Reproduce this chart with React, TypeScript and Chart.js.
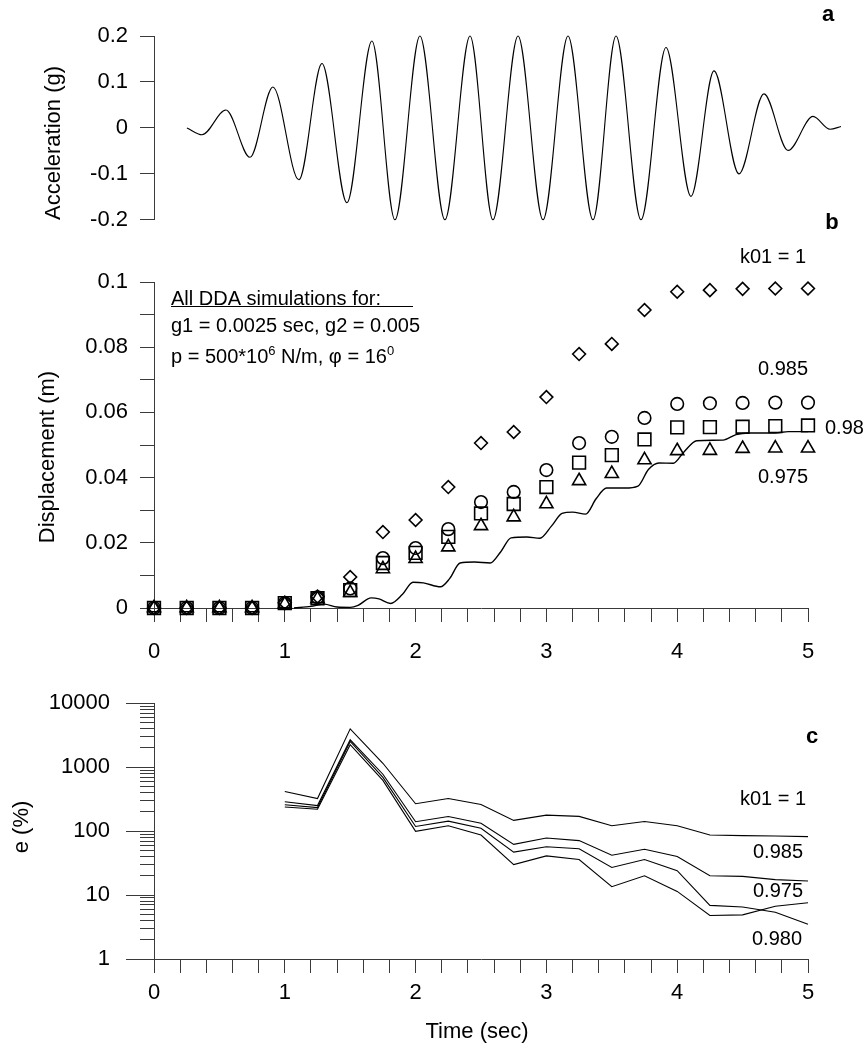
import React, { useEffect, useRef } from "react";
import { Chart, registerables } from "chart.js";

Chart.register(...registerables);

const FONT = "'Liberation Sans', Arial, Helvetica, sans-serif";
const INK = "#000";
const AXIS = "#3a3a3a";
const W = 865;

// ---------- Panel a: input acceleration (peaks and troughs) ----------
const accTime = [0.000, 0.115, 0.298, 0.482, 0.657, 0.856, 1.032, 1.223, 1.414, 1.590, 1.781, 1.972, 2.164, 2.339, 2.531, 2.722, 2.913, 3.104, 3.280, 3.471, 3.662, 3.853, 4.029, 4.220, 4.411, 4.595, 4.786, 4.916, 5.000];
const accValue = [0, -0.015, 0.039, -0.064, 0.089, -0.113, 0.140, -0.163, 0.189, -0.200, 0.200, -0.200, 0.200, -0.200, 0.200, -0.200, 0.200, -0.200, 0.200, -0.200, 0.175, -0.149, 0.124, -0.100, 0.074, -0.049, 0.025, -0.003, 0.003];
const accYTicks = [-0.2, -0.1, 0, 0.1, 0.2];

// ---------- Panel b: displacement ----------
const simTime = [0, 0.25, 0.5, 0.75, 1, 1.25, 1.5, 1.75, 2, 2.25, 2.5, 2.75, 3, 3.25, 3.5, 3.75, 4, 4.25, 4.5, 4.75, 5];
const dispK1 = [0, 0, 0, 0, 0.0016, 0.0035, 0.0095, 0.0233, 0.027, 0.0371, 0.0506, 0.054, 0.0647, 0.0779, 0.081, 0.0914, 0.097, 0.0975, 0.0979, 0.098, 0.098];
const dispK0985 = [0, 0, 0, 0, 0.0015, 0.0033, 0.006, 0.0153, 0.0184, 0.0242, 0.0325, 0.0356, 0.0423, 0.0506, 0.0525, 0.0583, 0.0626, 0.0628, 0.0629, 0.063, 0.063];
const dispK098 = [0, 0, 0, 0, 0.0015, 0.003, 0.0055, 0.0138, 0.0169, 0.0218, 0.029, 0.0319, 0.0371, 0.0446, 0.0469, 0.0517, 0.0554, 0.0555, 0.0556, 0.0558, 0.056];
const dispK0975 = [0, 0, 0, 0, 0.0012, 0.0028, 0.0047, 0.012, 0.0151, 0.0187, 0.0252, 0.0279, 0.0319, 0.039, 0.0412, 0.0454, 0.0482, 0.0483, 0.0489, 0.049, 0.049];
const measTime = [1.07, 1.2, 1.3, 1.4, 1.5, 1.56, 1.66, 1.72, 1.81, 1.9, 1.98, 2.06, 2.19, 2.26, 2.34, 2.45, 2.57, 2.65, 2.73, 2.85, 2.95, 3.04, 3.12, 3.2, 3.3, 3.38, 3.46, 3.6, 3.7, 3.78, 3.86, 3.97, 4.05, 4.15, 4.35, 4.45, 4.55, 4.75, 4.85, 5.0];
const measDisp = [0, 0.0005, 0.0012, 0.0003, 0.0002, 0.0008, 0.0031, 0.0028, 0.0014, 0.0042, 0.0079, 0.0077, 0.0065, 0.009, 0.0138, 0.0141, 0.0138, 0.0172, 0.0215, 0.0218, 0.0214, 0.0252, 0.029, 0.0294, 0.0288, 0.0335, 0.0368, 0.0368, 0.0374, 0.0425, 0.0445, 0.0444, 0.0478, 0.0513, 0.0515, 0.0532, 0.0537, 0.0537, 0.0541, 0.0541];
const dispYLabels = [0, 0.02, 0.04, 0.06, 0.08, 0.1];
const timeLabels = [0, 1, 2, 3, 4, 5];

// ---------- Panel c: error ----------
const errTime = [1, 1.25, 1.5, 1.75, 2, 2.25, 2.5, 2.75, 3, 3.25, 3.5, 3.75, 4, 4.25, 4.5, 4.75, 5];
const errK1 = [417, 323, 3970, 1150, 268, 323, 261, 147, 178, 170, 121, 141, 121, 87, 85, 84, 82];
const errK0985 = [288, 251, 2680, 775, 140, 169, 133, 62, 78, 71, 42, 52, 40, 20, 19.6, 17.4, 16.6];
const errK098 = [258, 233, 2520, 690, 118, 143, 111, 47, 57, 53, 27, 36, 24, 6.9, 6.5, 5.4, 3.5];
const errK0975 = [238, 220, 2250, 620, 99, 121, 87, 30, 41, 36, 13.5, 20, 11.4, 4.8, 4.9, 6.7, 7.6];
const errYLabels = [1, 10, 100, 1000, 10000];

// ---------- helpers ----------
const near = (list: number[], v: number) => list.some((t) => Math.abs(t - v) <= Math.max(1e-9, Math.abs(t) * 1e-6));
const pts = (xs: number[], ys: number[]) => xs.map((x, i) => ({ x, y: ys[i] }));
const timeMinor = timeLabels.flatMap((t) => [0, 0.2, 0.4, 0.6, 0.8].map((f) => Math.round((t + f) * 10) / 10)).filter((v) => v <= 5);
const dispMinor = dispYLabels.flatMap((v) => [v, Math.round((v + 0.01) * 1000) / 1000]).filter((v) => v <= 0.1 + 1e-9);
const errMinor = errYLabels.flatMap((d) => [1, 2, 3, 4, 5, 6, 7, 8, 9].map((m) => m * d)).filter((v) => v <= 10000);

type Run = { text: string; sup?: boolean };
type Note = {
  runs: string | Run[];
  x: number;
  y: number;
  size?: number;
  weight?: string;
  align?: "left" | "center" | "right";
  baseline?: CanvasTextBaseline;
  rotate?: number;
};

function notesPlugin(id: string, top: number, notes: Note[], lines: number[][] = []) {
  return {
    id,
    afterDraw(chart: any) {
      const ctx: CanvasRenderingContext2D = chart.ctx;
      ctx.save();
      ctx.fillStyle = INK;
      for (const n of notes) {
        const size = n.size ?? 20;
        const runs: Run[] = typeof n.runs === "string" ? [{ text: n.runs }] : n.runs;
        const fontFor = (r: Run) => `${n.weight ?? "normal"} ${r.sup ? Math.round(size * 0.66) : size}px ${FONT}`;
        ctx.save();
        ctx.translate(n.x, n.y - top);
        if (n.rotate) ctx.rotate(n.rotate);
        let total = 0;
        for (const r of runs) {
          ctx.font = fontFor(r);
          total += ctx.measureText(r.text).width;
        }
        let x = n.align === "center" ? -total / 2 : n.align === "right" ? -total : 0;
        ctx.textAlign = "left";
        ctx.textBaseline = n.baseline ?? "middle";
        for (const r of runs) {
          ctx.font = fontFor(r);
          ctx.fillText(r.text, x, r.sup ? -size * 0.4 : 0);
          x += ctx.measureText(r.text).width;
        }
        ctx.restore();
      }
      ctx.strokeStyle = INK;
      ctx.lineWidth = 1;
      for (const [x1, y1, x2, y2] of lines) {
        ctx.beginPath();
        ctx.moveTo(x1, y1 - top);
        ctx.lineTo(x2, y2 - top);
        ctx.stroke();
      }
      ctx.restore();
    },
  };
}

const tickFont = { family: FONT, size: 22 };

function leftAxis(extra: any) {
  return {
    afterFit(s: any) {
      s.width = 154;
    },
    grid: { display: true, drawOnChartArea: false, drawTicks: true, tickLength: 14, tickColor: AXIS, tickWidth: 1 },
    border: { display: true, color: AXIS, width: 1 },
    ...extra,
  };
}

function bottomAxis(height: number, padding: number) {
  return {
    type: "linear",
    min: 0,
    max: 5,
    afterFit(s: any) {
      s.height = height;
    },
    afterBuildTicks(s: any) {
      s.ticks = timeMinor.map((v) => ({ value: v }));
    },
    ticks: {
      autoSkip: false,
      maxRotation: 0,
      padding,
      color: INK,
      font: tickFont,
      callback: (v: number) => (near(timeLabels, v) ? String(Math.round(v)) : ""),
    },
    grid: { display: true, drawOnChartArea: false, drawTicks: true, tickLength: 14, tickColor: AXIS, tickWidth: 1 },
    border: { display: true, color: AXIS, width: 1 },
  };
}

const baseOptions = {
  animation: false,
  responsive: false,
  devicePixelRatio: 1,
  events: [],
  plugins: { legend: { display: false }, tooltip: { enabled: false } },
};

function accConfig(top: number, height: number) {
  return {
    type: "line",
    data: {
      datasets: [
        {
          data: pts(accTime, accValue),
          borderColor: INK,
          borderWidth: 1.1,
          pointRadius: 0,
          cubicInterpolationMode: "monotone",
          fill: false,
          clip: false,
        },
      ],
    },
    options: {
      ...baseOptions,
      layout: { padding: { top: 36 - top, right: W - 841, bottom: height - (226 - top), left: 0 } },
      scales: {
        x: { type: "linear", display: false, min: -0.252, max: 5 },
        y: leftAxis({
          type: "linear",
          min: -0.2,
          max: 0.2,
          afterBuildTicks(s: any) {
            s.ticks = accYTicks.map((v) => ({ value: v }));
          },
          ticks: {
            autoSkip: false,
            padding: 12,
            color: INK,
            font: tickFont,
            callback: (v: number) => {
              const r = Math.round(v * 10) / 10;
              return r === 0 ? "0" : r.toFixed(1);
            },
          },
        }),
      },
    },
    plugins: [
      notesPlugin("notesA", top, [
        { runs: "a", x: 828, y: 15, size: 22, weight: "bold", align: "center" },
        { runs: "Acceleration (g)", x: 54, y: 143, size: 22, align: "center", rotate: -Math.PI / 2 },
      ]),
    ],
  };
}

function marker(data: number[], style: string, radius: number) {
  return {
    data: pts(simTime, data),
    showLine: false,
    pointStyle: style,
    pointRadius: radius,
    pointBorderWidth: 1.6,
    pointBorderColor: INK,
    pointBackgroundColor: "rgba(0,0,0,0)",
    borderColor: INK,
    clip: false,
  };
}

function dispConfig(top: number, height: number) {
  return {
    type: "line",
    data: {
      datasets: [
        {
          data: pts(measTime, measDisp),
          borderColor: INK,
          borderWidth: 1.4,
          pointRadius: 0,
          cubicInterpolationMode: "monotone",
          fill: false,
          clip: false,
        },
        marker(dispK1, "rectRot", 6.4),
        marker(dispK0985, "circle", 6.3),
        marker(dispK098, "rect", 9),
        marker(dispK0975, "triangle", 7.6),
      ],
    },
    options: {
      ...baseOptions,
      layout: { padding: { top: 282 - top, right: W - 808, bottom: 0, left: 0 } },
      scales: {
        x: bottomAxis(top + height - 608, 17),
        y: leftAxis({
          type: "linear",
          min: 0,
          max: 0.1,
          afterBuildTicks(s: any) {
            s.ticks = dispMinor.map((v) => ({ value: v }));
          },
          ticks: {
            autoSkip: false,
            padding: 12,
            color: INK,
            font: tickFont,
            callback: (v: number) => (near(dispYLabels, v) ? String(Number(v.toFixed(2))) : ""),
          },
        }),
      },
    },
    plugins: [
      notesPlugin(
        "notesB",
        top,
        [
          { runs: "b", x: 832, y: 223, size: 22, weight: "bold", align: "center" },
          { runs: "Displacement (m)", x: 48, y: 457, size: 22, align: "center", rotate: -Math.PI / 2 },
          { runs: "All DDA simulations for:", x: 171, y: 305, baseline: "alphabetic" },
          { runs: "g1 = 0.0025 sec, g2 = 0.005", x: 171, y: 332, baseline: "alphabetic" },
          {
            runs: [{ text: "p = 500*10" }, { text: "6", sup: true }, { text: " N/m, φ = 16" }, { text: "0", sup: true }],
            x: 171,
            y: 363,
            baseline: "alphabetic",
          },
          { runs: "k01 = 1", x: 773, y: 257, align: "center" },
          { runs: "0.985", x: 783, y: 369, align: "center" },
          { runs: "0.98", x: 825, y: 428, align: "left" },
          { runs: "0.975", x: 783, y: 477, align: "center" },
        ],
        [[171, 306.5, 413, 306.5]]
      ),
    ],
  };
}

const decadeTicks = {
  id: "decadeTicks",
  afterDraw(chart: any) {
    const s = chart.scales.y;
    const ctx: CanvasRenderingContext2D = chart.ctx;
    ctx.save();
    ctx.strokeStyle = AXIS;
    ctx.lineWidth = 1;
    for (const d of errYLabels) {
      const y = Math.round(s.getPixelForValue(d)) + 0.5;
      ctx.beginPath();
      ctx.moveTo(s.right - 28, y);
      ctx.lineTo(s.right - 13, y);
      ctx.stroke();
    }
    ctx.restore();
  },
};

function errLine(data: number[]) {
  return {
    data: pts(errTime, data),
    borderColor: INK,
    borderWidth: 1.1,
    pointRadius: 0,
    tension: 0,
    fill: false,
    clip: false,
  };
}

function errConfig(top: number, height: number) {
  return {
    type: "line",
    data: {
      datasets: [errLine(errK1), errLine(errK0985), errLine(errK098), errLine(errK0975)],
    },
    options: {
      ...baseOptions,
      layout: { padding: { top: 686 - top, right: W - 808, bottom: 0, left: 0 } },
      scales: {
        x: bottomAxis(top + height - 959, 7),
        y: leftAxis({
          type: "logarithmic",
          min: 1,
          max: 10000,
          afterBuildTicks(s: any) {
            s.ticks = errMinor.map((v) => ({ value: v, major: near(errYLabels, v) }));
          },
          ticks: {
            autoSkip: false,
            padding: 30,
            color: INK,
            font: tickFont,
            major: { enabled: false },
            callback: (v: number) => (near(errYLabels, v) ? String(Math.round(v)) : ""),
          },
        }),
      },
    },
    plugins: [
      decadeTicks,
      notesPlugin("notesC", top, [
        { runs: "c", x: 812, y: 737, size: 22, weight: "bold", align: "center" },
        { runs: "e (%)", x: 22, y: 827, size: 22, align: "center", rotate: -Math.PI / 2 },
        { runs: "Time (sec)", x: 477, y: 1032, size: 22, align: "center" },
        { runs: "k01 = 1", x: 773, y: 799, align: "center" },
        { runs: "0.985", x: 778, y: 852, align: "center" },
        { runs: "0.975", x: 778, y: 891, align: "center" },
        { runs: "0.980", x: 777, y: 939, align: "center" },
      ]),
    ],
  };
}

function Panel({ top, height, make }: { top: number; height: number; make: (t: number, h: number) => any }) {
  const ref = useRef<HTMLCanvasElement>(null);
  useEffect(() => {
    const chart = new Chart(ref.current as HTMLCanvasElement, make(top, height));
    return () => chart.destroy();
  }, [top, height, make]);
  return (
    <canvas
      ref={ref}
      width={W}
      height={height}
      style={{ position: "absolute", left: 0, top, width: W, height, display: "block" }}
    />
  );
}

export default function App() {
  return (
    <div style={{ position: "absolute", left: 0, top: 0, width: W, height: 1046, overflow: "hidden", background: "#fff" }}>
      <Panel top={0} height={245} make={accConfig} />
      <Panel top={200} height={490} make={dispConfig} />
      <Panel top={660} height={386} make={errConfig} />
    </div>
  );
}
